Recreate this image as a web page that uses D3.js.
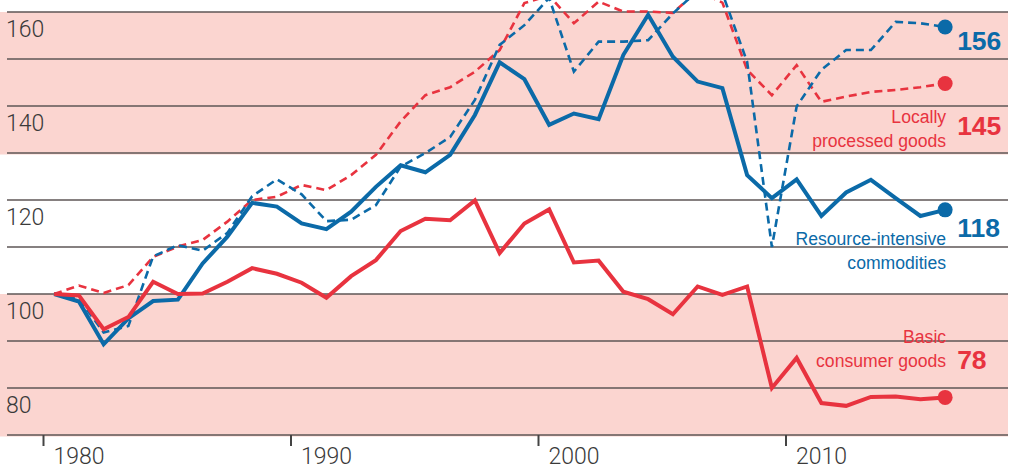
<!DOCTYPE html>
<html>
<head>
<meta charset="utf-8">
<script src="https://cdn.jsdelivr.net/npm/d3@7"></script>
<style>
  body { margin: 0; background: #fff; }
  svg { display: block; }
</style>
</head>
<body>
<script>
// years 1980..2016, index 1980 = 100
var years = d3.range(1980, 2017);

var basicGoods = [100, 99.7, 92.5, 95.1, 102.6, 100.0, 100.1, 102.6, 105.5, 104.3,
    102.4, 99.2, 103.8, 107.2, 113.4, 116.0, 115.7, 119.9, 108.7, 115.0,
    118.0, 106.7, 107.1, 100.5, 98.9, 95.7, 101.6, 99.8, 101.6, 80.0,
    86.4, 76.8, 76.2, 78.1, 78.2, 77.6, 78.0];

var resourceGoods = [100, 98.4, 89.3, 94.8, 98.5, 98.8, 106.5, 112.2, 119.4, 118.6,
    115.0, 113.8, 117.5, 122.8, 127.4, 125.9, 129.6, 138.1, 149.3, 145.7,
    136.0, 138.4, 137.2, 150.9, 159.4, 150.5, 145.2, 143.8, 125.3, 120.4,
    124.4, 116.6, 121.6, 124.3, 120.4, 116.6, 117.9];

var resourceDashed = [100, 99.0, 91.8, 93.2, 108.0, 110.4, 109.2, 113.0, 120.8, 124.4,
    121.2, 115.5, 115.8, 118.9, 127.1, 130.0, 133.4, 141.3, 153.0, 157.2,
    163.0, 147.3, 153.7, 153.7, 154.0, 159.7, 164.5, 164.0, 149.4, 110.0,
    139.9, 147.7, 151.9, 151.9, 157.9, 157.6, 156.8];

var localGoods = [100, 101.8, 100.2, 101.9, 107.9, 110.1, 111.5, 115.4, 120.0, 120.7,
    123.2, 122.1, 125.3, 129.6, 136.7, 142.3, 144.0, 147.3, 151.9, 161.9,
    163.5, 157.6, 162.2, 160.1, 160.1, 159.8, 164.5, 162.0, 147.7, 142.3,
    148.7, 140.9, 142.0, 143.0, 143.4, 144.0, 144.8];

var yTickLabels = [160, 140, 120, 100, 80];
var gridValues = d3.range(70, 161, 10);
var xTickYears = [1980, 1990, 2000, 2010];
var endLabels = ["156", "145", "118", "78"];

var red = "#e8333f";
var blue = "#0b6aa8";

var width = 1011, height = 466;

var svg = d3.select("body")
    .append("svg")
    .attr("width", width)
    .attr("height", height);

var x = d3.scaleLinear().domain([1980, 2020]).range([43, 1033]);
var y = d3.scaleLinear().domain([70, 160]).range([435, 12]);

// pink bands
[[130, 160], [70, 100]].forEach(function (b) {
    svg.append("rect")
        .attr("x", 0)
        .attr("y", y(b[1]))
        .attr("width", 1008)
        .attr("height", y(b[0]) - y(b[1]) + 1.5)
        .attr("fill", "#fbd5d0");
});

// grid
svg.selectAll(".grid")
    .data(gridValues)
    .enter().append("line")
    .attr("class", "grid")
    .attr("x1", 7)
    .attr("x2", 1008)
    .attr("y1", function (d) { return y(d); })
    .attr("y2", function (d) { return y(d); })
    .attr("stroke", "#5e5656")
    .attr("stroke-width", 1.4);

svg.selectAll(".ylab")
    .data(yTickLabels)
    .enter().append("text")
    .attr("class", "ylab")
    .attr("x", 6)
    .attr("y", function (d) { return y(d) + 24.5; })
    .attr("font-family", "Roboto, 'Liberation Sans', sans-serif")
    .attr("font-weight", 300)
    .attr("font-size", 23)
    .attr("fill", "#3a3a3a")
    .text(function (d) { return d; });

// x axis
var xAxis = d3.axisBottom(x)
    .tickValues(xTickYears)
    .tickSize(11)
    .tickFormat(d3.format("d"));

var gx = svg.append("g")
    .attr("transform", "translate(0," + 435 + ")")
    .call(xAxis);
gx.select(".domain").remove();
gx.selectAll(".tick line").attr("stroke", "#444").attr("stroke-width", 2);
gx.selectAll(".tick text")
    .attr("x", 10)
    .attr("y", 28.5)
    .attr("dy", 0)
    .attr("text-anchor", "start")
    .attr("font-family", "Roboto, 'Liberation Sans', sans-serif")
    .attr("font-weight", 300)
    .attr("font-size", 23)
    .attr("fill", "#3a3a3a");

// lines
function line(vals) {
    return d3.line()
        .x(function (d, i) { return x(years[i] + 0.45); })
        .y(function (d) { return y(d); })(vals);
}

var series = [
    { vals: localGoods, color: red, width: 2.6, dash: "8,5" },
    { vals: resourceDashed, color: blue, width: 2.6, dash: "8,5" },
    { vals: resourceGoods, color: blue, width: 4, dash: null },
    { vals: basicGoods, color: red, width: 4, dash: null }
];

series.forEach(function (s) {
    svg.append("path")
        .attr("d", line(s.vals))
        .attr("fill", "none")
        .attr("stroke", s.color)
        .attr("stroke-width", s.width)
        .attr("stroke-linejoin", "miter")
        .attr("stroke-dasharray", s.dash);
    var last = s.vals.length - 1;
    svg.append("circle")
        .attr("cx", x(years[last] + 0.45))
        .attr("cy", y(s.vals[last]))
        .attr("r", 7.5)
        .attr("fill", s.color);
});

// labels
var nameFont = "'Liberation Sans', Arial, sans-serif";
var labelX = x(2016.45) + 1;
var numX = x(2016.45) + 12;

function names(lines, color, y0) {
    lines.forEach(function (t, i) {
        svg.append("text")
            .attr("x", labelX)
            .attr("y", y0 + i * 24)
            .attr("text-anchor", "end")
            .attr("font-family", nameFont)
            .attr("font-size", 17.6)
            .attr("fill", color)
            .text(t);
    });
}
function num(t, color, yb) {
    svg.append("text")
        .attr("x", numX)
        .attr("y", yb)
        .attr("font-family", nameFont)
        .attr("font-weight", "bold")
        .attr("font-size", 26.5)
        .attr("fill", color)
        .text(t);
}

num(endLabels[0], blue, 50);
names(["Locally", "processed goods"], red, 122.5);
num(endLabels[1], red, 135);
names(["Resource-intensive", "commodities"], blue, 245);
num(endLabels[2], blue, 236.5);
names(["Basic", "consumer goods"], red, 342.5);
num(endLabels[3], red, 369);
</script>
</body>
</html>
